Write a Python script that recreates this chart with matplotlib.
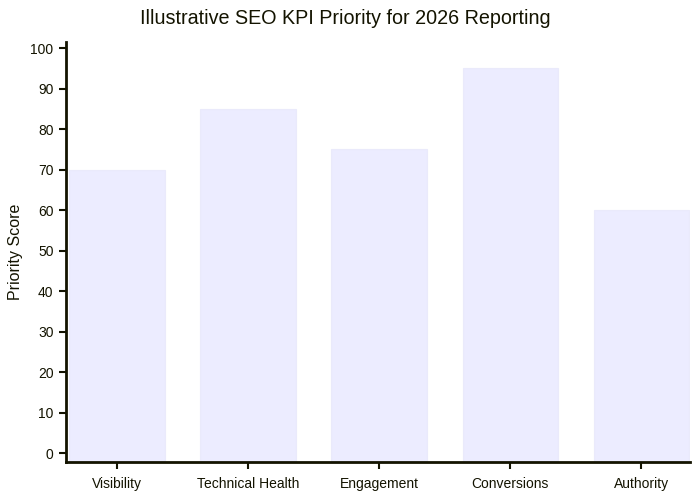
import matplotlib.pyplot as plt

categories = ['Visibility', 'Technical Health', 'Engagement', 'Conversions', 'Authority']
scores = [70, 85, 75, 95, 60]
y_ticks = [0, 10, 20, 30, 40, 50, 60, 70, 80, 90, 100]

plt.rcParams['font.family'] = ['Liberation Sans', 'DejaVu Sans']
text_color = '#131300'

fig = plt.figure(figsize=(7, 5), dpi=100)
ax = fig.add_axes([66 / 700, 38 / 500, 624 / 700, 420 / 500])

ymin, ymax = -2.2, 101.5
x = list(range(len(categories)))
heights = [s - ymin for s in scores]
ax.bar(x, heights, bottom=ymin, width=0.73, color='#ECECFF', edgecolor='#EAEAFB', linewidth=0.8)

ax.set_xlim(-0.39, 4.37)
ax.set_ylim(ymin, ymax)
ax.set_xticks(x)
ax.set_xticklabels(categories)
ax.set_yticks(y_ticks)

for side in ['top', 'right']:
    ax.spines[side].set_visible(False)
for side in ['left', 'bottom']:
    ax.spines[side].set_color(text_color)
    ax.spines[side].set_linewidth(2)

ax.tick_params(axis='both', colors=text_color, labelsize=10, length=5, width=1.5, pad=4)
ax.tick_params(axis='x', pad=6)
ax.set_ylabel('Priority Score', fontsize=11.5, color=text_color, labelpad=5)
fig.suptitle('Illustrative SEO KPI Priority for 2026 Reporting', fontsize=14.2, color=text_color, x=0.494, y=0.983)

fig.savefig('out.png', dpi=100)
